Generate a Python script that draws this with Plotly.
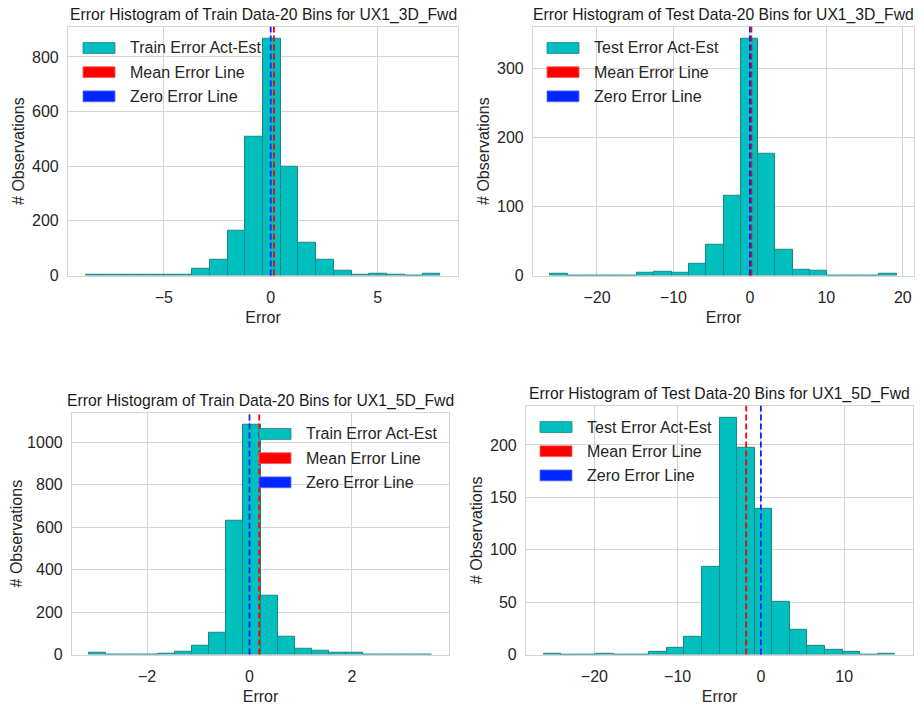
import numpy as np
import plotly.graph_objects as go

# page is 924x709; the browser body has an 8px margin, so the figure is drawn
# 8px in from the top-left corner.
PAGE_OFF = 8
W, H = 924 - PAGE_OFF, 709 - PAGE_OFF

# ---------------- data ----------------
titles = [
    "Error Histogram of Train Data-20 Bins for UX1_3D_Fwd",
    "Error Histogram of Test Data-20 Bins for UX1_3D_Fwd",
    "Error Histogram of Train Data-20 Bins for UX1_5D_Fwd",
    "Error Histogram of Test Data-20 Bins for UX1_5D_Fwd",
]
hist_labels = ["Train Error Act-Est", "Test Error Act-Est", "Train Error Act-Est", "Test Error Act-Est"]
mean_label = "Mean Error Line"
zero_label = "Zero Error Line"
x_label = "Error"
y_label = "# Observations"

train_3d_counts = [1, 3, 3, 3, 3, 3, 24, 58, 164, 508, 867, 398, 120, 58, 18, 3, 7, 3, 0, 5]
train_3d_min, train_3d_max = -8.65, 7.93
train_3d_mean = 0.15

test_3d_counts = [2, 0, 0, 0, 0, 4, 5, 4, 17, 45, 115, 343, 176, 38, 9, 7, 0, 0, 0, 2]
test_3d_min, test_3d_max = -26.1, 19.2
test_3d_mean = 0.2

train_5d_counts = [8, 0, 0, 0, 5, 14, 40, 102, 632, 1085, 276, 85, 26, 20, 9, 9, 1, 1, 1, 1]
train_5d_min, train_5d_max = -3.13, 3.56
train_5d_mean = 0.19

test_5d_counts = [1, 0, 0, 1, 0, 0, 3, 6, 17, 84, 226, 197, 139, 50, 24, 8, 5, 3, 0, 1]
test_5d_min, test_5d_max = -26.1, 16.16
test_5d_mean = -1.76

x_ticks = [[-5, 0, 5], [-20, -10, 0, 10, 20], [-2, 0, 2], [-20, -10, 0, 10]]
y_ticks = [[0, 200, 400, 600, 800], [0, 100, 200, 300], [0, 200, 400, 600, 800, 1000], [0, 50, 100, 150, 200]]

panels = [
    (train_3d_counts, train_3d_min, train_3d_max, train_3d_mean),
    (test_3d_counts, test_3d_min, test_3d_max, test_3d_mean),
    (train_5d_counts, train_5d_min, train_5d_max, train_5d_mean),
    (test_5d_counts, test_5d_min, test_5d_max, test_5d_mean),
]

# ---------------- style / layout ----------------
FONT = "Liberation Sans, Arial, sans-serif"
TXT = "#262626"
GRID = "#d4d4d4"
BAR = "#00bfbf"
BAR_EDGE = "#1f8585"
RED = "#ff0000"
BLUE = "#0026ff"

# axes boxes in page pixels: (left, right, top, bottom)
boxes = [(68, 458, 27, 279), (533, 914, 27, 279), (72, 449, 418, 663), (526, 913, 411, 663)]
# legend placement (px offset of patch left from axes left)
legend_left = [15, 14, 187, 14]
legend_rows = [21.5, 46, 70.5]


def px(x):
    return (x - PAGE_OFF) / W


def py(y):
    return 1 - (y - PAGE_OFF) / H


fig = go.Figure()
shapes = []
annotations = []
layout_axes = {}

for i, (counts, lo, hi, mean) in enumerate(panels):
    n = i + 1
    sfx = "" if n == 1 else str(n)
    xa, ya = "x" + sfx, "y" + sfx
    edges = np.linspace(lo, hi, len(counts) + 1)
    centers = (edges[:-1] + edges[1:]) / 2
    bw = edges[1] - edges[0]
    fig.add_trace(go.Bar(
        x=centers, y=counts, width=bw, xaxis=xa, yaxis=ya,
        marker=dict(color=BAR, line=dict(color=BAR_EDGE, width=1)),
        showlegend=False, hoverinfo="x+y",
    ))
    span = hi - lo
    xr = [lo - 0.05 * span, hi + 0.05 * span]
    yr = [0, max(counts) * 1.05]
    l, r, t, b = boxes[i]
    layout_axes["xaxis" + sfx] = dict(
        domain=[px(l), px(r)], range=xr, anchor=ya, tickvals=x_ticks[i],
        showgrid=True, gridcolor=GRID, gridwidth=1, zeroline=False,
        showline=True, linecolor=GRID, linewidth=1.2, mirror=True,
        ticks="", ticklabelstandoff=7,
        tickfont=dict(family=FONT, size=16, color=TXT),
        title=dict(text=x_label, font=dict(family=FONT, size=16, color=TXT), standoff=6),
    )
    layout_axes["yaxis" + sfx] = dict(
        domain=[py(b), py(t)], range=yr, anchor=xa, tickvals=y_ticks[i],
        showgrid=True, gridcolor=GRID, gridwidth=1, zeroline=False,
        showline=True, linecolor=GRID, linewidth=1.2, mirror=True,
        ticks="", ticklabelstandoff=5,
        tickfont=dict(family=FONT, size=16, color=TXT),
        title=dict(text=y_label, font=dict(family=FONT, size=16, color=TXT), standoff=3),
    )
    # mean and zero lines
    for val, col in ((mean, RED), (0, BLUE)):
        shapes.append(dict(
            type="line", xref=xa, yref=ya + " domain", x0=val, x1=val, y0=0, y1=1,
            line=dict(color=col, width=1.8, dash="6px,3px"), layer="above",
        ))
    # legend
    entries = [(hist_labels[i], BAR, BAR_EDGE), (mean_label, RED, "#ff6060"), (zero_label, BLUE, "#6070ff")]
    for (lab, col, edge), row in zip(entries, legend_rows):
        x0 = l + legend_left[i]
        yc = t + row
        shapes.append(dict(
            type="rect", xref="paper", yref="paper",
            x0=px(x0), x1=px(x0 + 32), y0=py(yc + 5.5), y1=py(yc - 5.5),
            fillcolor=col, line=dict(color=edge, width=0.8), layer="above",
        ))
        annotations.append(dict(
            text=lab, xref="paper", yref="paper", x=px(x0 + 45), y=py(yc),
            xanchor="left", yanchor="middle", showarrow=False,
            font=dict(family=FONT, size=16, color=TXT),
        ))
    # title
    annotations.append(dict(
        text=titles[i], xref="paper", yref="paper", x=px((l + r) / 2), y=py(t),
        xanchor="center", yanchor="bottom", yshift=1, showarrow=False,
        font=dict(family=FONT, size=15.7, color="#1a1a1a"),
    ))

fig.update_layout(
    width=W, height=H, margin=dict(l=0, r=0, t=0, b=0),
    paper_bgcolor="white", plot_bgcolor="white",
    shapes=shapes, annotations=annotations, showlegend=False,
    bargap=0, font=dict(family=FONT, color=TXT),
    **layout_axes,
)

fig.write_html("out.html")
